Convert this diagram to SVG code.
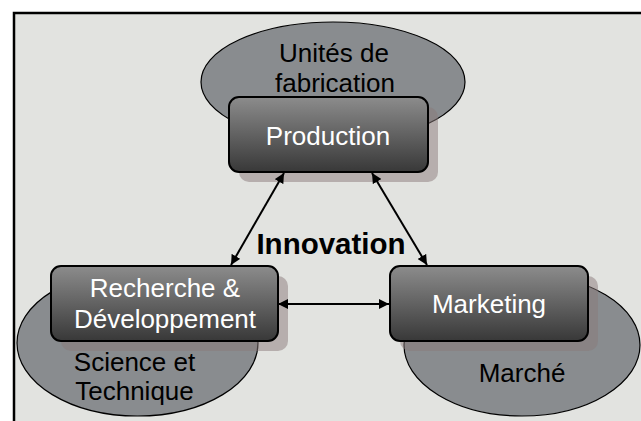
<svg xmlns="http://www.w3.org/2000/svg" width="641" height="421" viewBox="0 0 641 421">
<style>
.ell{fill:#898c8f;stroke:#000;stroke-width:1.2}
.shadow{fill:#8a7a7a;opacity:0.5}
.box{fill:url(#g);stroke:#000;stroke-width:2}
.lbl{font-family:"Liberation Sans",Arial,sans-serif;font-size:26px;text-anchor:middle}
.w{fill:#fff}
.k{fill:#000}
.conn{stroke:#000;stroke-width:2;fill:none;marker-start:url(#ah);marker-end:url(#ah)}
</style>
<defs>
<linearGradient id="g" x1="0" y1="0" x2="0" y2="1">
<stop offset="0" stop-color="#8c8c8c"/>
<stop offset="1" stop-color="#383838"/>
</linearGradient>
<marker id="ah" viewBox="0 0 10 10" refX="10" refY="5" markerWidth="5" markerHeight="5" orient="auto-start-reverse" markerUnits="strokeWidth">
<path d="M0,0 L10,5 L0,10 z" fill="#000"/>
</marker>
</defs>
<rect x="0" y="0" width="641" height="421" fill="#fff"/>
<rect x="14" y="13" width="700" height="500" fill="#e2e3e0" stroke="#000" stroke-width="2.5"/>
<g id="production">
<ellipse class="ell" cx="333" cy="82" rx="132" ry="60"/>
<text class="lbl k" x="334" y="62">Unités de</text>
<text class="lbl k" x="335" y="92">fabrication</text>
<rect class="shadow" x="239" y="107" width="199" height="75" rx="10"/>
<rect class="box" x="229" y="97" width="199" height="75" rx="10"/>
<text class="lbl w" x="328" y="145">Production</text>
</g>
<g id="rd">
<ellipse class="ell" cx="137.5" cy="343" rx="120.5" ry="73"/>
<rect class="shadow" x="61" y="276" width="227" height="75" rx="10"/>
<rect class="box" x="51" y="266" width="227" height="75" rx="10"/>
<text class="lbl w" x="165" y="297">Recherche &amp;</text>
<text class="lbl w" x="165" y="328">Développement</text>
<text class="lbl k" x="134.5" y="371">Science et</text>
<text class="lbl k" x="134.5" y="400">Technique</text>
</g>
<g id="marketing">
<ellipse class="ell" cx="522" cy="345" rx="118" ry="71"/>
<rect class="shadow" x="400" y="276" width="198" height="75" rx="10"/>
<rect class="box" x="390" y="266" width="198" height="75" rx="10"/>
<text class="lbl w" x="489" y="313">Marketing</text>
<text class="lbl k" x="522" y="382">Marché</text>
</g>
<g id="innovation">
<text x="331" y="254" font-family="&quot;Liberation Sans&quot;,Arial,sans-serif" font-size="29.5" font-weight="bold" text-anchor="middle" fill="#000">Innovation</text>
</g>
<g id="connectors">
<line class="conn" x1="284" y1="173" x2="231" y2="265"/>
<line class="conn" x1="372" y1="173" x2="427" y2="265"/>
<line class="conn" x1="278" y1="304" x2="389" y2="304"/>
</g>
</svg>
